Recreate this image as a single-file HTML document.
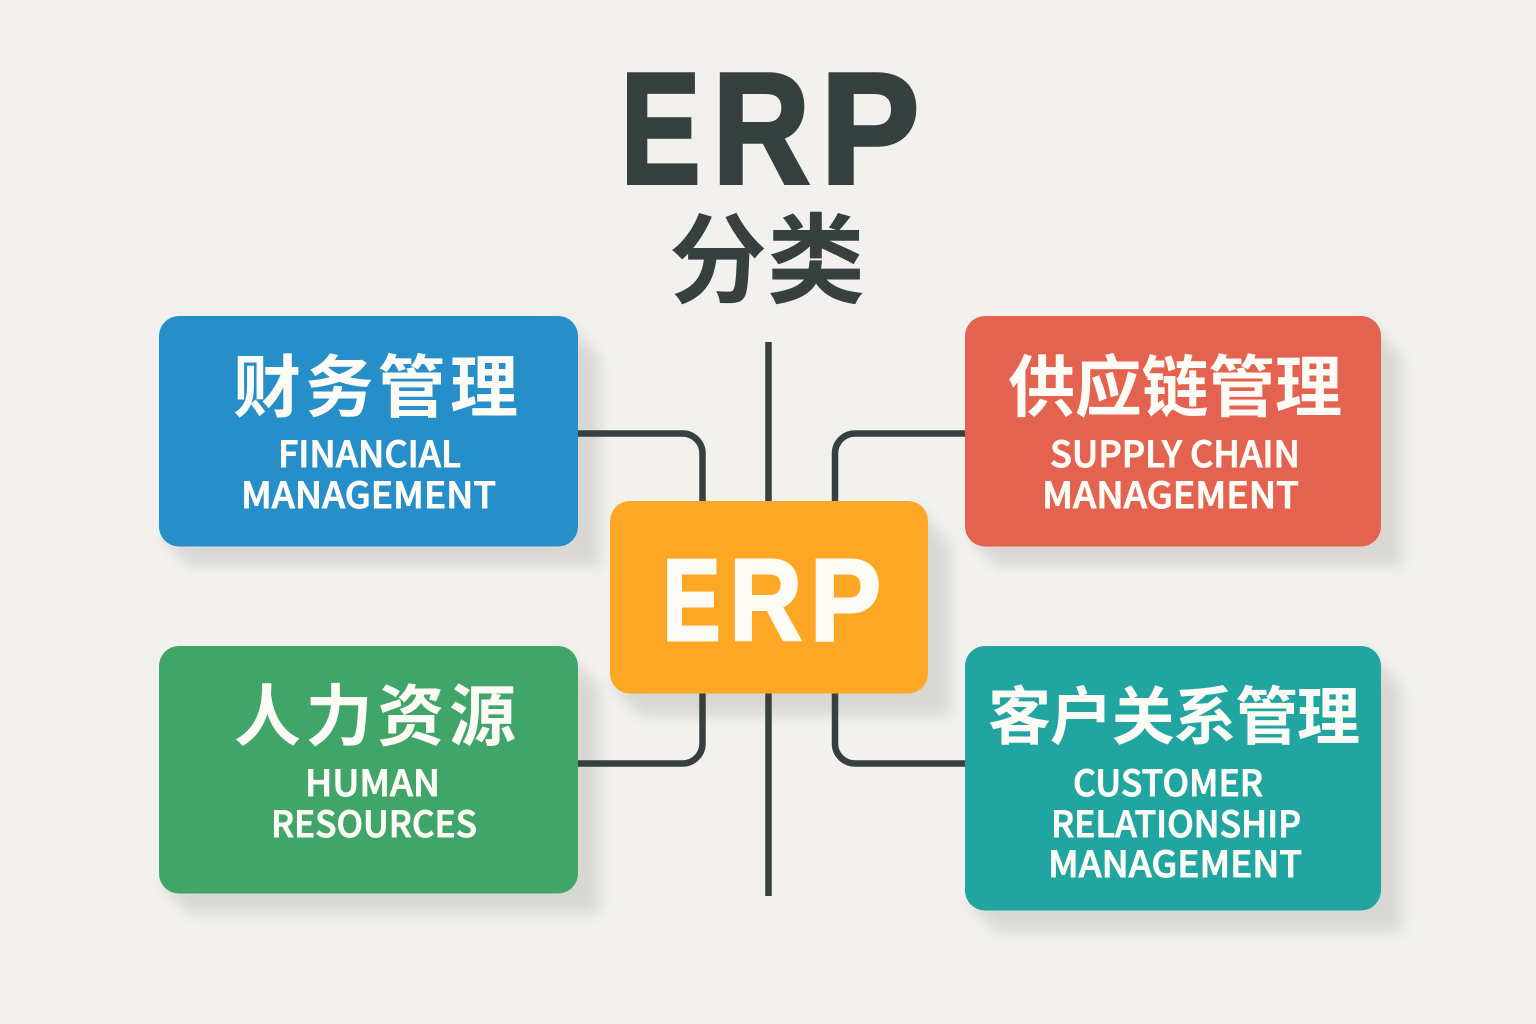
<!DOCTYPE html>
<html lang="zh"><head><meta charset="utf-8"><title>ERP 分类</title>
<style>html,body{margin:0;padding:0;background:#f2f1ed}svg{display:block}
.cjk{font-family:"Liberation Sans","Noto Sans CJK SC",sans-serif;font-weight:700;fill:#fdfbf6}
.en{font-family:"Noto Sans CJK SC","Liberation Sans",sans-serif;font-weight:500;fill:#fdfbf6;font-size:36px;stroke:#fdfbf6;stroke-width:.9}
.t{font-family:"Liberation Sans","Noto Sans CJK SC",sans-serif;font-weight:700}
</style></head><body>
<svg width="1536" height="1024" viewBox="0 0 1536 1024" xmlns="http://www.w3.org/2000/svg">
<defs><filter id="b" x="-20%" y="-20%" width="140%" height="140%"><feGaussianBlur stdDeviation="7"/></filter></defs>
<rect width="1536" height="1024" fill="#f2f1ed"/>
<g fill="#000" opacity=".1" filter="url(#b)">
<path d="M560 318L600 358V566H190L160 536Z"/>
<path d="M1365 318L1402 358V566H997L967 536Z"/>
<path d="M560 648L600 688V914H190L160 884Z"/>
<path d="M1365 648L1402 688V932H997L967 900Z"/>
<path d="M915 505L950 545V716H640L612 685Z"/>
</g>
<g fill="none" stroke="#35403f" stroke-width="6.5">
<path d="M768.5 342V896"/>
<path d="M578 433.500H682a20 20 0 0 1 20.500 20V510"/>
<path d="M965 433.500H855a20 20 0 0 0-20 20V510"/>
<path d="M578 763.500H682a20 20 0 0 0 20.500-20V685"/>
<path d="M965 763.500H855a20 20 0 0 1-20-20V685"/>
</g>
<rect x="159" y="316" width="419" height="230.500" rx="20" fill="#268fca"/>
<rect x="965" y="316" width="416" height="230.500" rx="20" fill="#e46350"/>
<rect x="159" y="646" width="419" height="247.500" rx="20" fill="#3fa568"/>
<rect x="965" y="646" width="416" height="264.500" rx="20" fill="#20a5a0"/>
<rect x="610" y="501" width="318" height="192.500" rx="20" fill="#fea724"/>

<g class="t" font-size="158" fill="#35403f" stroke="#35403f" stroke-width="4">
<text class="t" x="620.500" y="183" textLength="80" lengthAdjust="spacingAndGlyphs">E</text>
<text class="t" x="712.500" y="183" textLength="97.500" lengthAdjust="spacingAndGlyphs">R</text>
<text class="t" x="820.500" y="183" textLength="99" lengthAdjust="spacingAndGlyphs">P</text>
</g>
<text class="t" x="767" y="295" font-size="98" fill="#35403f" text-anchor="middle">分类</text>
<g font-size="116" fill="#fdfbf6" stroke="#fdfbf6" stroke-width="3">
<text class="t" x="662.500" y="640" textLength="58" lengthAdjust="spacingAndGlyphs">E</text>
<text class="t" x="729.500" y="640" textLength="72.500" lengthAdjust="spacingAndGlyphs">R</text>
<text class="t" x="810" y="640" textLength="71" lengthAdjust="spacingAndGlyphs">P</text>
</g>

<text class="cjk" x="233" y="411.500" font-size="68" textLength="285" lengthAdjust="spacing">财务管理</text>
<text class="en" x="278" y="467" textLength="183" lengthAdjust="spacingAndGlyphs">FINANCIAL</text>
<text class="en" x="241" y="508" textLength="255" lengthAdjust="spacingAndGlyphs">MANAGEMENT</text>

<text class="cjk" x="1008" y="411" font-size="67" textLength="334" lengthAdjust="spacing">供应链管理</text>
<text class="en" x="1050" y="467" textLength="250" lengthAdjust="spacingAndGlyphs">SUPPLY CHAIN</text>
<text class="en" x="1042" y="508" textLength="257" lengthAdjust="spacingAndGlyphs">MANAGEMENT</text>

<text class="cjk" x="234" y="740" font-size="67" textLength="282" lengthAdjust="spacing">人力资源</text>
<text class="en" x="305" y="796" textLength="135" lengthAdjust="spacingAndGlyphs">HUMAN</text>
<text class="en" x="271" y="837" textLength="206" lengthAdjust="spacingAndGlyphs">RESOURCES</text>

<text class="cjk" x="988" y="739" font-size="63" textLength="372" lengthAdjust="spacing">客户关系管理</text>
<text class="en" x="1073" y="796" textLength="190" lengthAdjust="spacingAndGlyphs">CUSTOMER</text>
<text class="en" x="1051" y="837" textLength="250" lengthAdjust="spacingAndGlyphs">RELATIONSHIP</text>
<text class="en" x="1048" y="877" textLength="254" lengthAdjust="spacingAndGlyphs">MANAGEMENT</text>
</svg>
</body></html>
